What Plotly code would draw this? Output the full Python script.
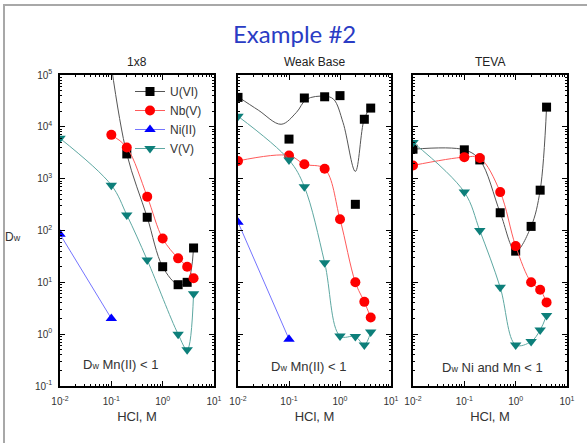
import plotly.graph_objects as go

# ---- data: HCl concentration (M) and weight distribution ratio Dw ----
# 1x8 resin
x_u_1x8 = [0.1, 0.2, 0.5, 1, 2, 3, 4]
u_1x8 = [1.5e5, 3000, 180, 20, 9, 10, 46]
x_nb_1x8 = [0.1, 0.2, 0.5, 1, 2, 3, 4]
nb_1x8 = [7000, 4000, 450, 70, 29, 20, 12]
x_ni_1x8 = [0.01, 0.1]
ni_1x8 = [85, 2]
x_v_1x8 = [0.01, 0.1, 0.2, 0.5, 2, 3, 4]
v_1x8 = [6000, 750, 200, 27, 1.0, 0.5, 6]

# Weak Base resin
x_u_wb = [0.01, 0.1, 0.2, 0.5, 1, 2, 3, 4]
u_wb = [37000, 5800, 36000, 38000, 40000, 320, 14000, 23000]
# smoothed trend curve for U(VI) on Weak Base
x_u_wb_fit = [0.01, 0.025, 0.07, 0.14, 0.22, 0.5, 0.75, 1.15, 2.0, 3.0, 4.0]
u_wb_fit = [38000, 21000, 11200, 19000, 34000, 39000, 34000, 12000, 1380, 14400, 24000]
x_nb_wb = [0.01, 0.1, 0.2, 0.5, 1, 2, 3, 4]
nb_wb = [2200, 2800, 1900, 1550, 165, 10, 4.2, 2.1]
x_ni_wb = [0.01, 0.1]
ni_wb = [145, 0.8]
x_v_wb = [0.01, 0.1, 0.2, 0.5, 1, 2, 3, 4]
v_wb = [16000, 2300, 700, 24, 0.92, 0.9, 0.62, 1.1]

# TEVA resin
x_u_tv = [0.01, 0.1, 0.2, 0.5, 1, 2, 3, 4]
u_tv = [3700, 3600, 2300, 220, 40, 120, 600, 24000]
x_nb_tv = [0.01, 0.1, 0.2, 0.5, 1, 2, 3, 4]
nb_tv = [1800, 2600, 2500, 550, 50, 10, 7.2, 4.1]
x_v_tv = [0.01, 0.1, 0.2, 0.5, 1, 2, 3, 4]
v_tv = [5000, 550, 100, 8, 0.62, 0.72, 1.2, 2.3]

panel_titles = ["1x8", "Weak Base", "TEVA"]
panel_notes = ["D<span style='font-size:9px'>w</span> Mn(II) < 1",
               "D<span style='font-size:9px'>w</span> Mn(II) < 1",
               "D<span style='font-size:9px'>w</span> Ni and Mn < 1"]
x_tick_vals = [0.01, 0.1, 1, 10]
x_tick_text = ["10<sup>-2</sup>", "10<sup>-1</sup>", "10<sup>0</sup>", "10<sup>1</sup>"]
y_tick_vals = [0.1, 1, 10, 100, 1000, 10000, 100000]
y_tick_text = ["10<sup>-1</sup>", "10<sup>0</sup>", "10<sup>1</sup>", "10<sup>2</sup>",
               "10<sup>3</sup>", "10<sup>4</sup>", "10<sup>5</sup>"]

# ---- styles ----
W, H = 587, 443
FONT = "Liberation Sans"
styles = {
    "U(VI)": dict(symbol="square", color="#000000", line="#555555", size=9),
    "Nb(V)": dict(symbol="circle", color="#ff0000", line="#ff5a5a", size=10),
    "Ni(II)": dict(symbol="triangle-up", color="#0000ff", line="#7474ff", size=10),
    "V(V)": dict(symbol="triangle-down", color="#0d7f7a", line="#5ea8a2", size=10),
}


def minor_vals(lo, hi):
    vals = []
    for e in range(lo, hi):
        for m in range(2, 10):
            vals.append(m * 10.0 ** e)
    return vals


fig = go.Figure()


def add_series(name, x, y, panel, legend=False, shape="spline", mode="lines+markers"):
    s = styles[name]
    fig.add_trace(go.Scatter(
        x=x, y=y, name=name, mode=mode,
        xaxis="x" if panel == 1 else f"x{panel}",
        yaxis="y" if panel == 1 else f"y{panel}",
        line=dict(color=s["line"], width=1, shape=shape, smoothing=1.0),
        marker=dict(symbol=s["symbol"], color=s["color"], size=s["size"]),
        showlegend=legend,
    ))


def add_curve(name, x, y, panel):
    s = styles[name]
    fig.add_trace(go.Scatter(
        x=x, y=y, mode="lines", name=name,
        xaxis=f"x{panel}", yaxis=f"y{panel}",
        line=dict(color=s["line"], width=1, shape="spline", smoothing=1.0),
        showlegend=False, hoverinfo="skip",
    ))


# panel 1: 1x8
add_series("U(VI)", x_u_1x8, u_1x8, 1, legend=True)
add_series("Nb(V)", x_nb_1x8, nb_1x8, 1, legend=True)
add_series("Ni(II)", x_ni_1x8, ni_1x8, 1, legend=True, shape="linear")
add_series("V(V)", x_v_1x8, v_1x8, 1, legend=True)

# panel 2: Weak Base
add_curve("U(VI)", x_u_wb_fit, u_wb_fit, 2)
add_series("U(VI)", x_u_wb, u_wb, 2, mode="markers")
add_series("Nb(V)", x_nb_wb, nb_wb, 2)
add_series("Ni(II)", x_ni_wb, ni_wb, 2, shape="linear")
add_series("V(V)", x_v_wb, v_wb, 2)

# panel 3: TEVA
add_series("U(VI)", x_u_tv, u_tv, 3)
add_series("Nb(V)", x_nb_tv, nb_tv, 3)
add_series("V(V)", x_v_tv, v_tv, 3)

# ---- axes ----
x_domains = [(60 / W, 214 / W), (238 / W, 391 / W), (413 / W, 567 / W)]
y_domain = (1 - 386 / H, 1 - 75 / H)

common = dict(
    type="log", ticks="inside", ticklen=5, tickwidth=1.2, tickcolor="black",
    showline=True, linecolor="black", linewidth=1.5, mirror="allticks",
    showgrid=False, zeroline=False, automargin=False,
)

for i in range(3):
    sfx = "" if i == 0 else str(i + 1)
    fig.layout[f"xaxis{sfx}"] = dict(
        common, domain=x_domains[i], anchor=f"y{sfx}", range=[-2, 1],
        tickmode="array", tickvals=x_tick_vals, ticktext=x_tick_text,
        tickfont=dict(family=FONT, size=10, color="#333333"),
        ticklabelstandoff=5,
        minor=dict(ticks="inside", ticklen=2.5, tickcolor="black", tickwidth=1,
                   tickmode="array", tickvals=minor_vals(-2, 1), showgrid=False),
        title=dict(text="HCl, M", font=dict(family=FONT, size=13, color="#333333"),
                   standoff=6),
    )
    fig.layout[f"yaxis{sfx}"] = dict(
        common, domain=y_domain, anchor=f"x{sfx}", range=[-1, 5],
        tickmode="array", tickvals=y_tick_vals, ticktext=y_tick_text,
        showticklabels=(i == 0),
        tickfont=dict(family=FONT, size=10, color="#333333"),
        ticklabelstandoff=4,
        minor=dict(ticks="inside", ticklen=2.5, tickcolor="black", tickwidth=1,
                   tickmode="array", tickvals=minor_vals(-1, 5), showgrid=False),
    )

# ---- annotations ----
def label(text, px, py, size, color="#333333", family=FONT):
    return dict(text=text, x=px / W, y=1 - py / H, xref="paper", yref="paper",
                xanchor="center", yanchor="middle", showarrow=False,
                font=dict(family=family, size=size, color=color))


annotations = [
    label("Example #2", 295, 33, 24, color="#2a3cc4", family="Lato"),
    label("D<span style='font-size:9px'>w</span>", 13, 237, 12),
]
note_pos = [(121, 364), (309, 366), (492, 367)]
for i in range(3):
    cx = (x_domains[i][0] + x_domains[i][1]) / 2 * W
    annotations.append(label(panel_titles[i], cx, 62, 12, color="#222222"))
    annotations.append(label(panel_notes[i], note_pos[i][0], note_pos[i][1], 13))

fig.update_layout(
    width=W, height=H,
    margin=dict(l=0, r=0, t=0, b=0, autoexpand=False),
    paper_bgcolor="white", plot_bgcolor="white",
    annotations=annotations,
    legend=dict(x=130 / W, y=1 - 77 / H, xanchor="left", yanchor="top",
                bgcolor="rgba(0,0,0,0)", itemwidth=30, tracegroupgap=0,
                font=dict(family=FONT, size=12, color="#333333")),
    shapes=[dict(type="rect", xref="paper", yref="paper",
                 x0=4 / W, x1=1.02, y0=-0.02, y1=1 - 5 / H,
                 line=dict(color="#a8a8a8", width=2))],
)

fig.write_html("out.html")
